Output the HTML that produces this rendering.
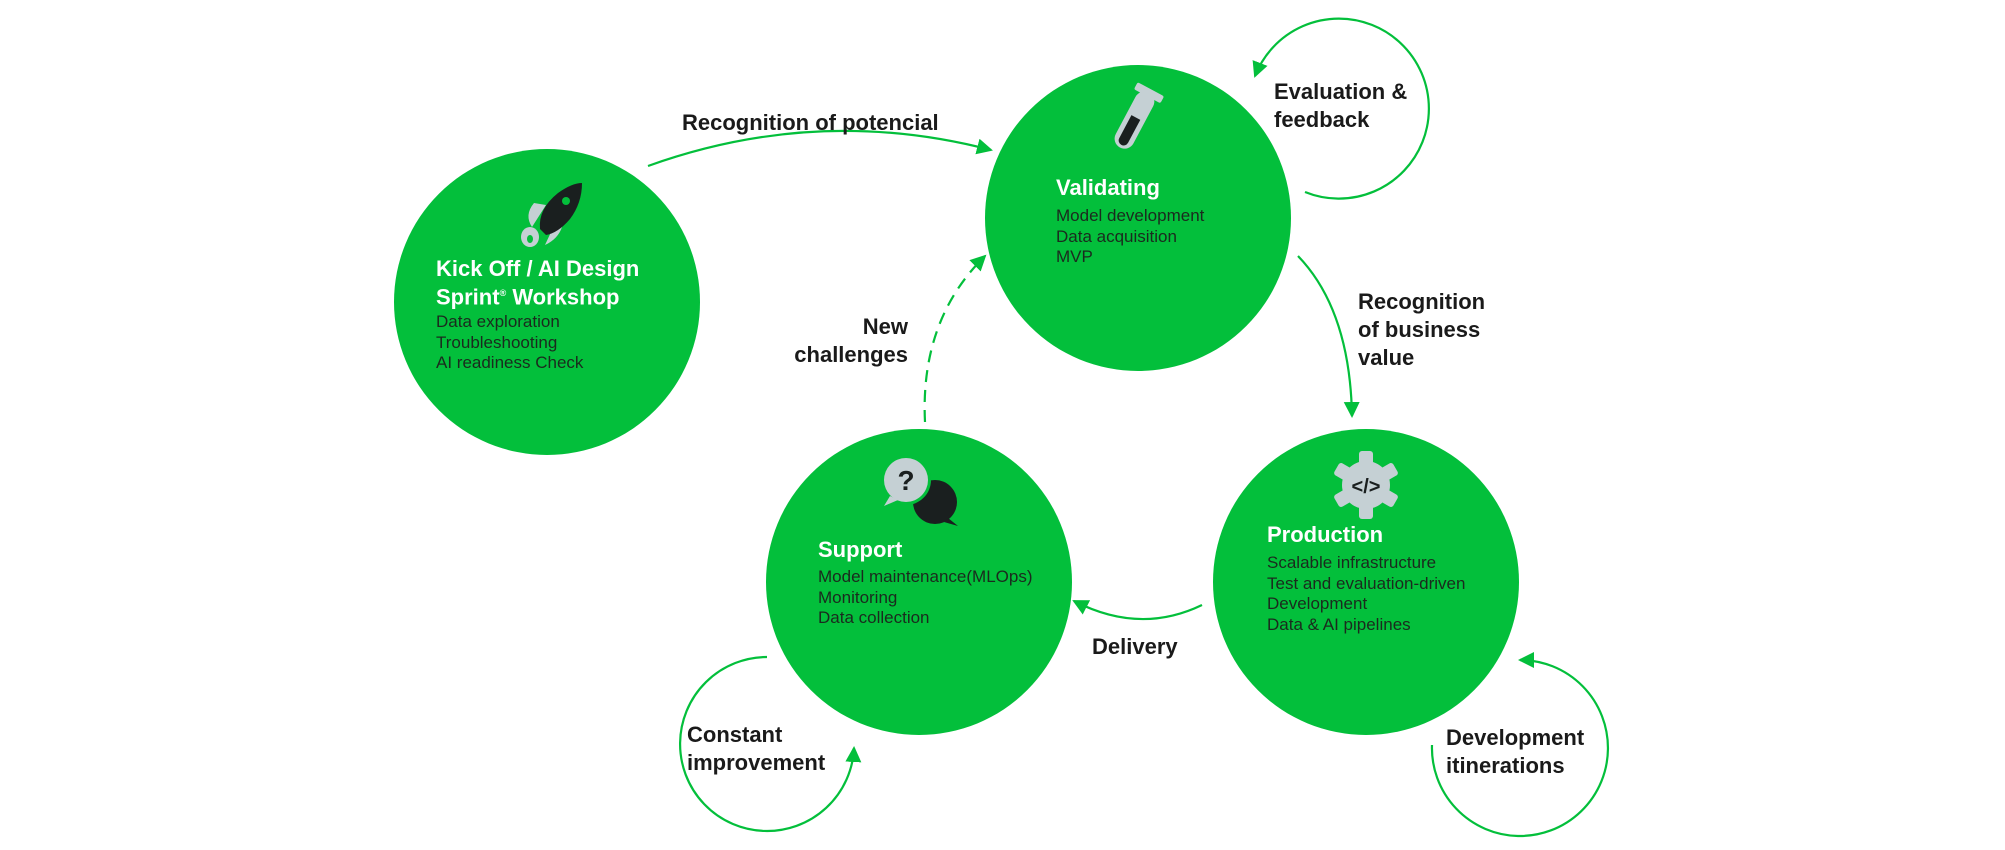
<!DOCTYPE html>
<html><head><meta charset="utf-8"><style>
body{margin:0;background:#fff;}
#c{position:relative;width:2005px;height:850px;overflow:hidden;font-family:"Liberation Sans",sans-serif;}
.t{position:absolute;font-weight:bold;color:#fff;font-size:22px;line-height:25px;white-space:nowrap;}
.s{position:absolute;color:#1b2a1e;font-size:17px;line-height:20.5px;white-space:nowrap;}
.l{position:absolute;font-weight:bold;color:#1a1a1a;font-size:22px;line-height:28px;white-space:nowrap;}
</style></head><body><div id="c">
<svg width="2005" height="850" style="position:absolute;left:0;top:0">
<defs><marker id="a" markerUnits="userSpaceOnUse" markerWidth="18" markerHeight="18" refX="14" refY="8" orient="auto"><path d="M0,0 L16,8 L0,16 z" fill="#03BF3B"/></marker></defs>
<g fill="#03BF3B">
<circle cx="547" cy="302" r="153"/><circle cx="1138" cy="218" r="153"/>
<circle cx="919" cy="582" r="153"/><circle cx="1366" cy="582" r="153"/>
</g>
<g fill="none" stroke="#03BF3B" stroke-width="2.2" marker-end="url(#a)">
<path d="M648,166 Q818,105 991,150"/>
<path d="M1305,192 A90 90 0 1 0 1255 76"/>
<path d="M1298,256 Q1350,310 1352,416"/>
<path d="M1202,605 Q1140,635 1074,601"/>
<path d="M925,422 Q920,320 985,256" stroke-dasharray="12,8"/>
<path d="M767,657 A87 87 0 1 0 854 748"/>
<path d="M1432,745 A88 88 0 1 0 1520 660"/>
</g>
<!-- rocket -->
<g transform="translate(550,215)">
<path d="M-18,12 Q-26,0 -16,-12 L-4,-10 Z" fill="#c5d0d4"/>
<path d="M-5,30 Q8,24 12,12 L8,2 Z" fill="#c5d0d4"/>
<ellipse cx="-20" cy="22" rx="9" ry="10" fill="#c5d0d4"/><ellipse cx="-20" cy="24" rx="3" ry="4" fill="#03BF3B"/>
<path d="M-10,14 Q-12,-6 8,-22 Q22,-32 32,-32 Q32,-12 20,4 Q8,18 -4,20 Z" fill="#1a1f1f"/>
<circle cx="16" cy="-14" r="4" fill="#03BF3B"/>
</g>
<!-- test tube -->
<g transform="translate(1134,121) rotate(28)">
<rect x="-10" y="-32" width="20" height="62" rx="10" fill="#c5d0d4"/>
<rect x="-15" y="-36" width="30" height="8" rx="2" fill="#c5d0d4"/>
<path d="M-5,-4 L5,-4 L5,22 A5 5 0 0 1 -5 22 Z" fill="#1a1f1f"/>
</g>
<!-- chat -->
<g transform="translate(918,490)">
<circle cx="17" cy="12" r="22" fill="#1a1f1f"/><path d="M30,28 L40,36 L26,32 Z" fill="#1a1f1f"/>
<circle cx="-12" cy="-10" r="25" fill="#03BF3B"/>
<circle cx="-12" cy="-10" r="22" fill="#c5d0d4"/><path d="M-28,6 L-34,16 L-20,10 Z" fill="#c5d0d4"/>
<text x="-12" y="0" text-anchor="middle" font-family="Liberation Sans" font-weight="bold" font-size="28" fill="#1a1f1f">?</text>
</g>
<!-- gear -->
<g transform="translate(1366,485)" fill="#c5d0d4">
<circle r="24"/>
<rect x="-7" y="-34" width="14" height="68" rx="3"/>
<rect x="-7" y="-34" width="14" height="68" rx="3" transform="rotate(60)"/>
<rect x="-7" y="-34" width="14" height="68" rx="3" transform="rotate(120)"/>
<text x="0" y="8" text-anchor="middle" font-family="Liberation Sans" font-weight="bold" font-size="20" fill="#1a1f1f">&lt;/&gt;</text>
</g>
</svg>
<div class="t" style="left:436px;top:256px">Kick Off / AI Design<br>Sprint<sup style="font-size:9px">®</sup> Workshop</div>
<div class="s" style="left:436px;top:312px">Data exploration<br>Troubleshooting<br>AI readiness Check</div>
<div class="t" style="left:1056px;top:175px">Validating</div>
<div class="s" style="left:1056px;top:206px">Model development<br>Data acquisition<br>MVP</div>
<div class="t" style="left:818px;top:537px">Support</div>
<div class="s" style="left:818px;top:567px">Model maintenance(MLOps)<br>Monitoring<br>Data collection</div>
<div class="t" style="left:1267px;top:522px">Production</div>
<div class="s" style="left:1267px;top:553px">Scalable infrastructure<br>Test and evaluation-driven<br>Development<br>Data &amp; AI pipelines</div>
<div class="l" style="left:682px;top:109px">Recognition of potencial</div>
<div class="l" style="left:1274px;top:78px">Evaluation &amp;<br>feedback</div>
<div class="l" style="left:1358px;top:288px">Recognition<br>of business<br>value</div>
<div class="l" style="left:758px;top:313px;width:150px;text-align:right">New<br>challenges</div>
<div class="l" style="left:1092px;top:633px">Delivery</div>
<div class="l" style="left:687px;top:721px">Constant<br>improvement</div>
<div class="l" style="left:1446px;top:724px">Development<br>itinerations</div>
</div></body></html>
